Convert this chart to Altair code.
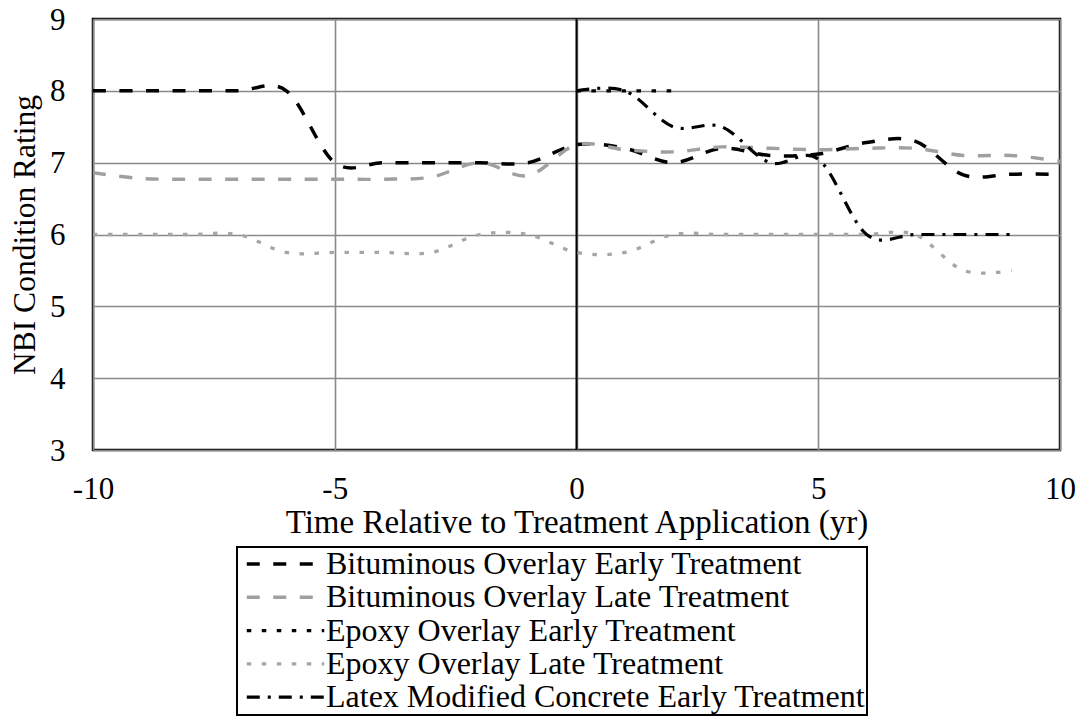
import altair as alt
import pandas as pd

series_names = [
    "Bituminous Overlay Early Treatment",
    "Bituminous Overlay Late Treatment",
    "Epoxy Overlay Early Treatment",
    "Epoxy Overlay Late Treatment",
    "Latex Modified Concrete Early Treatment",
]

bit_early_x = list(range(-10, 11))
bit_early_y = [8, 8, 8, 8, 8, 7, 7, 7, 7, 7, 7.25, 7.2, 7.0, 7.2, 7.1, 7.12, 7.28, 7.3, 6.83, 6.84, 6.84]

bit_late_x = list(range(-10, 11))
bit_late_y = [6.86, 6.78, 6.77, 6.77, 6.77, 6.77, 6.77, 6.8, 7.0, 6.82, 7.25, 7.18, 7.15, 7.22, 7.2, 7.18, 7.2, 7.2, 7.1, 7.1, 7.02]

epoxy_early_x = [0, 1, 2]
epoxy_early_y = [8, 8, 8]

epoxy_late_x = list(range(-10, 10))
epoxy_late_y = [6, 6, 6, 6, 5.75, 5.75, 5.75, 5.75, 6, 6, 5.75, 5.75, 6, 6, 6, 6, 6, 6, 5.5, 5.5]

latex_early_x = list(range(0, 10))
latex_early_y = [8, 8, 7.5, 7.5, 7.0, 7.05, 6.0, 6.0, 6.0, 6.0]

colors = ["#000000", "#a0a0a0", "#000000", "#a6a6a6", "#000000"]
dashes = [[13, 13.5], [13, 13.5], [4.5, 10.5], [4.5, 10.5], [13, 8, 3, 8]]
widths = [3.5, 3.2, 5, 4.6, 3.5]

rows = []
for name, xs, ys in [
    (series_names[0], bit_early_x, bit_early_y),
    (series_names[1], bit_late_x, bit_late_y),
    (series_names[2], epoxy_early_x, epoxy_early_y),
    (series_names[3], epoxy_late_x, epoxy_late_y),
    (series_names[4], latex_early_x, latex_early_y),
]:
    for x, y in zip(xs, ys):
        rows.append({"series": name, "t": x, "rating": y})
df = pd.DataFrame(rows)

FONT = "Liberation Serif"

legend = alt.Legend(
    title=None,
    orient="none",
    legendX=144,
    legendY=528,
    direction="vertical",
    symbolType="stroke",
    symbolSize=6000,
    clipHeight=32,
    labelFont=FONT,
    labelFontSize=32,
    labelColor="black",
    labelOffset=0,
    strokeColor="black",
    padding=1,
    symbolOffset=7,
    rowPadding=1.3,
    labelLimit=900,
)

x_scale = alt.Scale(domain=[-10, 10], nice=False, zero=False)
y_scale = alt.Scale(domain=[3, 9], nice=False, zero=False)

lines = alt.Chart(df).mark_line(
    interpolate="cardinal", tension=0, clip=True
).encode(
    x=alt.X(
        "t:Q",
        scale=x_scale,
        title="Time Relative to Treatment Application (yr)",
        axis=alt.Axis(
            values=[-10, -5, 0, 5, 10],
            labelExpr="'' + datum.value",
            labelFlush=False,
            labelOverlap=False,
            labelPadding=24,
            titlePadding=2,
            titleFontSize=33,
        ),
    ),
    y=alt.Y(
        "rating:Q",
        scale=y_scale,
        title="NBI Condition Rating",
        axis=alt.Axis(
            values=[3, 4, 5, 6, 7, 8, 9],
            labelExpr="'' + datum.value",
            labelFlush=False,
            labelOverlap=False,
            labelPadding=28,
            labelBaseline="alphabetic",
            labelOffset=10,
            titlePadding=8,
            titleFontSize=31.5,
        ),
    ),
    color=alt.Color("series:N", scale=alt.Scale(domain=series_names, range=colors), legend=legend),
    strokeDash=alt.StrokeDash("series:N", scale=alt.Scale(domain=series_names, range=dashes), legend=legend),
    strokeWidth=alt.StrokeWidth("series:N", scale=alt.Scale(domain=series_names, range=widths), legend=legend),
    detail="series:N",
)

zero_df = pd.DataFrame({"t": [0]})
zero_rule = alt.Chart(zero_df).mark_rule(color="black", strokeWidth=2).encode(
    x=alt.X("t:Q", scale=x_scale)
)

chart = alt.layer(zero_rule, lines).properties(
    width=967,
    height=431,
    autosize=alt.AutoSizeParams(type="none"),
    padding={"left": 85, "top": 11, "right": 16, "bottom": 280},
).configure_view(
    stroke="black", strokeWidth=2.5
).configure_axis(
    labelFont=FONT,
    titleFont=FONT,
    labelFontSize=31,
    titleFontSize=33,
    labelColor="black",
    titleColor="black",
    titleFontWeight="normal",
    domain=False,
    ticks=False,
    gridColor="#8a8a8a",
    gridWidth=1.6,
    gridOpacity=1,
).configure_legend(
    strokeWidth=2
)

chart.save("out.html", embed_options={"renderer": "svg", "actions": False})
